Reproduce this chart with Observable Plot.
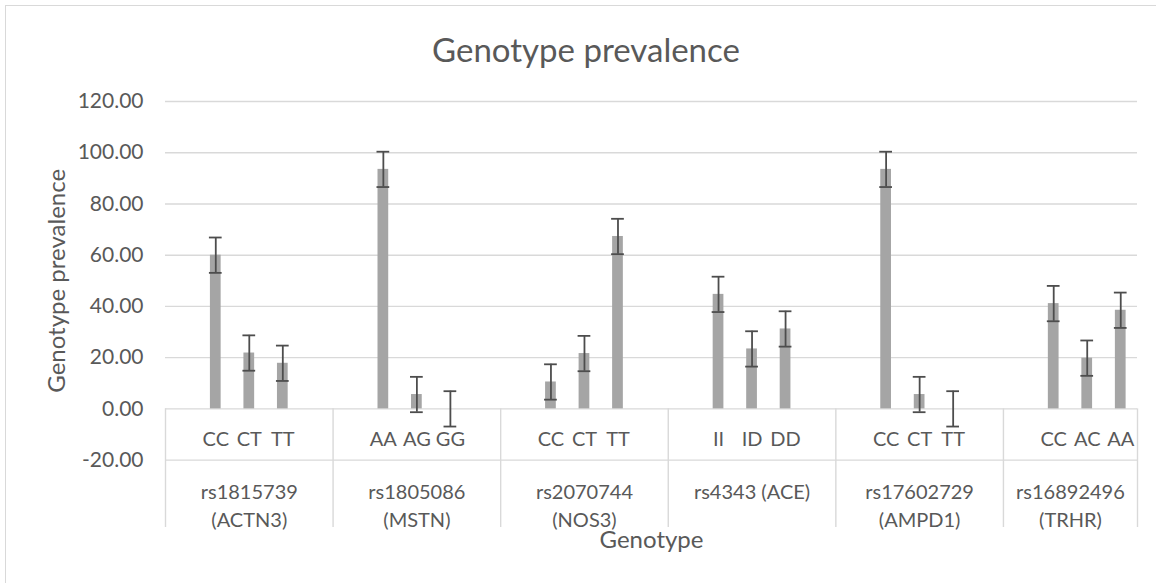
<!DOCTYPE html>
<html><head><meta charset="utf-8">
<script src="https://cdn.jsdelivr.net/npm/d3@7"></script>
<script src="https://cdn.jsdelivr.net/npm/@observablehq/plot@0.6"></script>
<style>
body{margin:0;background:#fff;overflow:hidden;}
#wrap{position:relative;width:1156px;height:583px;overflow:hidden;background:#fff;}
#border{position:absolute;left:5px;top:5px;width:1200px;height:700px;border:1.5px solid #d9d9d9;}
#chart{position:absolute;left:0;top:0;}
</style></head><body>
<div id="wrap"><div id="border"></div><div id="chart"></div></div>
<script>
const groups = ["rs1815739\n(ACTN3)", "rs1805086\n(MSTN)", "rs2070744\n(NOS3)", "rs4343 (ACE)", "rs17602729\n(AMPD1)", "rs16892496\n(TRHR)"];
const genotypes = [["CC","CT","TT"],["AA","AG","GG"],["CC","CT","TT"],["II","ID","DD"],["CC","CT","TT"],["CC","AC","AA"]];
const prevalence = [[60.0,21.8,17.8],[93.5,5.6,0],[10.5,21.6,67.3],[44.7,23.4,31.2],[93.5,5.6,0],[41.1,19.8,38.5]];
const stdError = 6.9;
const yTicks = [-20,0,20,40,60,80,100,120];

// layout: each group occupies 5 units, bars at 1.5, 2.5, 3.5 inside; the plot area is cut at 29 units
const GROUP = 5, XMAX = 29;
const rows = groups.flatMap((g, gi) => genotypes[gi].map((gt, i) => ({
  group: g, gi, genotype: gt, value: prevalence[gi][i], pos: gi * GROUP + 1.5 + i
})));
const groupRows = groups.map((g, gi) => ({group: g, mid: (gi * GROUP + Math.min(gi * GROUP + GROUP, XMAX)) / 2}));
const dividers = groups.map((g, gi) => gi * GROUP).concat([XMAX]);

const grid = "#d9d9d9", txt = "#595959";
const chart = Plot.plot({
  width: 1156, height: 583,
  marginLeft: 165, marginRight: 19, marginTop: 101, marginBottom: 123.4,
  style: {fontFamily: "Lato, 'Open Sans', sans-serif", fontSize: "20px", color: txt, background: "transparent", overflow: "visible"},
  x: {domain: [0, XMAX], axis: null},
  y: {domain: [-20, 120], axis: null},
  marks: [
    Plot.ruleY(yTicks, {stroke: grid, strokeWidth: 1.4}),
    Plot.ruleX(dividers, {x: d => d, y1: 0, y2: -20, insetBottom: -67.4, stroke: grid, strokeWidth: 1.4}),
    Plot.text(yTicks, {y: d => d, text: d => d.toFixed(2), frameAnchor: "left", textAnchor: "end", lineAnchor: "middle", dx: -22, fontSize: 21, fill: txt}),
    Plot.rectY(rows, {x1: d => d.pos - 0.16, x2: d => d.pos + 0.16, y: "value", fill: "#a5a5a5"}),
    Plot.ruleX(rows, {x: "pos", y1: d => d.value - stdError, y2: d => d.value + stdError, stroke: "#4d4d4d", strokeWidth: 1.8}),
    Plot.ruleY(rows, {y: d => d.value + stdError, x1: d => d.pos - 0.19, x2: d => d.pos + 0.19, stroke: "#4d4d4d", strokeWidth: 1.8}),
    Plot.ruleY(rows, {y: d => d.value - stdError, x1: d => d.pos - 0.19, x2: d => d.pos + 0.19, stroke: "#4d4d4d", strokeWidth: 1.8}),
    Plot.text(rows, {x: "pos", text: "genotype", frameAnchor: "bottom", lineAnchor: "middle", dy: -20.6, fontSize: 20, fill: txt}),
    Plot.text(groupRows, {x: "mid", text: "group", frameAnchor: "bottom", lineAnchor: "top", dy: 18.4, lineHeight: 1.43, fontSize: 20, fill: txt}),
    Plot.text(["Genotype"], {frameAnchor: "bottom", textAnchor: "middle", lineAnchor: "middle", dy: 80, fontSize: 24, fill: txt}),
    Plot.text(["Genotype prevalence"], {frameAnchor: "left", textAnchor: "middle", lineAnchor: "middle", rotate: -90, dx: -108.5, fontSize: 24, fill: txt}),
    Plot.text(["Genotype prevalence"], {frameAnchor: "top", textAnchor: "middle", lineAnchor: "top", dx: -65.5, dy: -63, fontSize: 33, fill: txt})
  ]
});
document.getElementById("chart").appendChild(chart);
</script>
</body></html>
